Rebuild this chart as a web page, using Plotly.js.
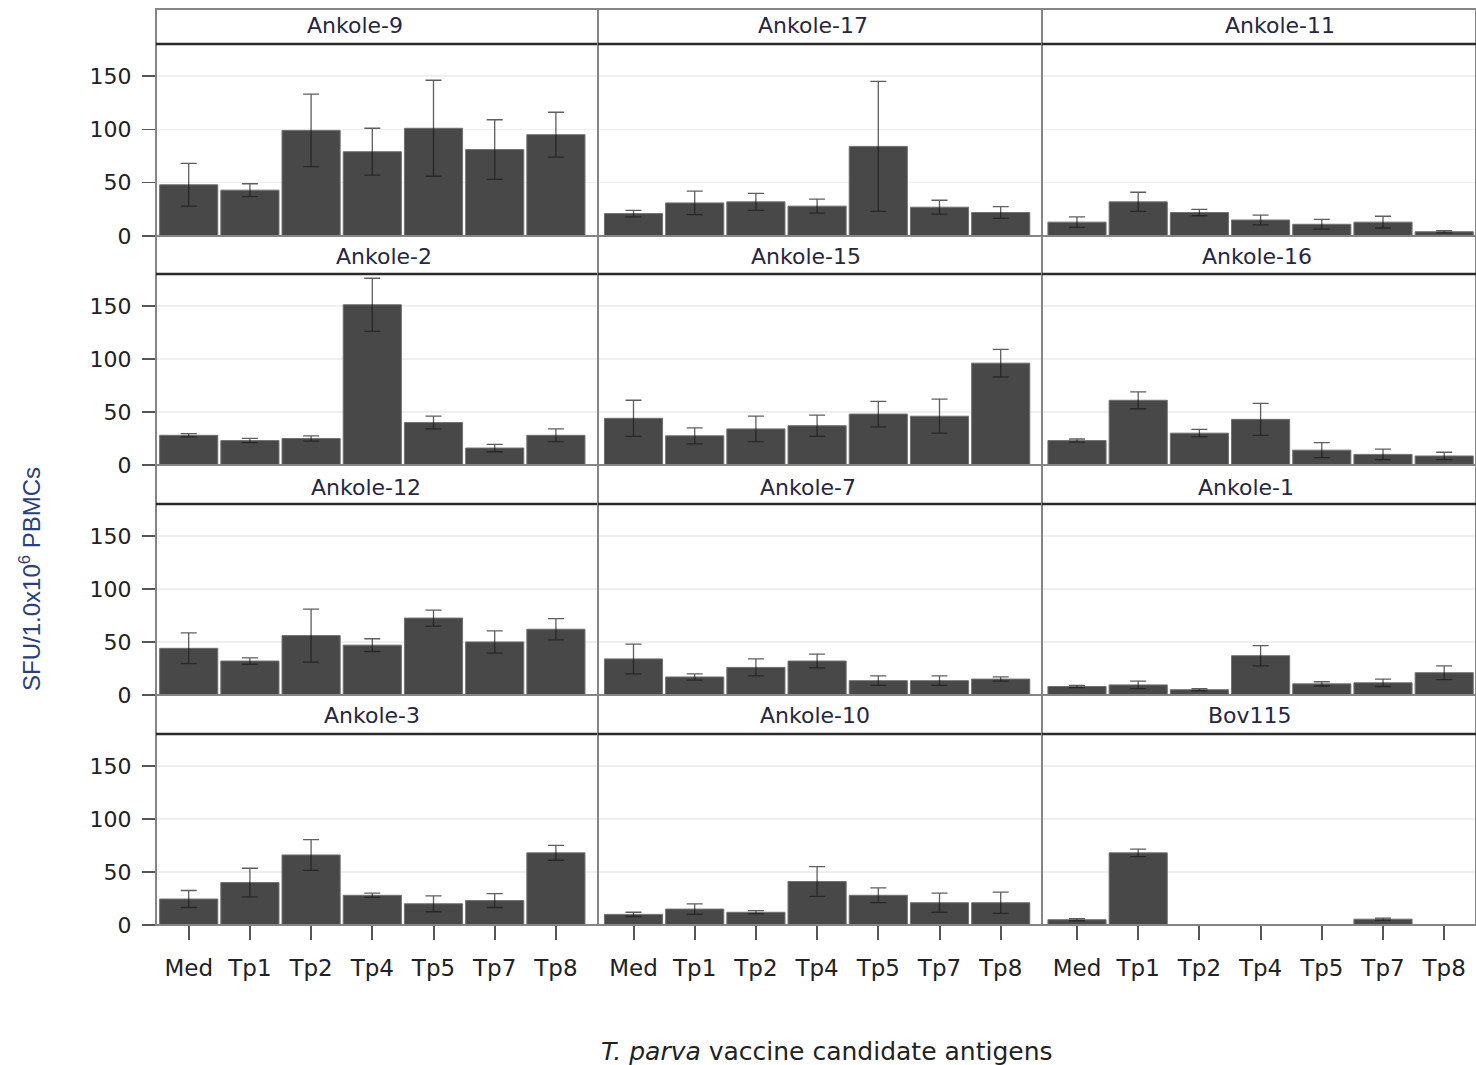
<!DOCTYPE html>
<html><head><meta charset="utf-8">
<script src="https://cdn.plot.ly/plotly-3.0.1.min.js"></script>
<style>html,body{margin:0;padding:0;background:#fff;} #chart{width:1476px;height:1065px;}</style>
</head><body><div id="chart"></div>
<script>
// ---- data ----
const antigens = ["Med","Tp1","Tp2","Tp4","Tp5","Tp7","Tp8"];
const animals = ["Ankole-9","Ankole-17","Ankole-11","Ankole-2","Ankole-15","Ankole-16","Ankole-12","Ankole-7","Ankole-1","Ankole-3","Ankole-10","Bov115"];
const ankole9 = [48, 43, 99, 79, 101, 81, 95];
const ankole9Err = [20, 6, 34, 22, 45, 28, 21];
const ankole17 = [21, 31, 32, 28, 84, 27, 22];
const ankole17Err = [3, 11, 8, 6.5, 61, 6.5, 5.5];
const ankole11 = [13, 32, 22, 15, 11, 13, 4];
const ankole11Err = [5, 9, 3, 4.5, 4.5, 5.5, 1];
const ankole2 = [28, 23, 25, 151, 40, 16, 28];
const ankole2Err = [1.5, 2, 2.5, 25, 6, 3.5, 6];
const ankole15 = [44, 27.5, 34, 37, 48, 46, 96];
const ankole15Err = [17, 7.5, 12, 10, 12, 16, 13];
const ankole16 = [23, 61, 30, 43, 14, 10, 8.5];
const ankole16Err = [1.5, 8, 3.5, 15, 7, 5, 3.5];
const ankole12 = [44, 32, 56, 47, 72.5, 50, 62];
const ankole12Err = [14.5, 3, 25, 6, 7.5, 10.5, 10];
const ankole7 = [34, 17, 26, 32, 13.5, 13.5, 15];
const ankole7Err = [14, 3, 8, 6.5, 4.5, 4.5, 2];
const ankole1 = [8, 9.5, 5, 37, 10.5, 11.5, 21];
const ankole1Err = [1, 3.5, 1, 9.5, 2, 3.5, 6.5];
const ankole3 = [24.5, 40, 66, 28, 20, 23, 68];
const ankole3Err = [8, 13.5, 14.5, 2, 7.5, 6.5, 7];
const ankole10 = [10, 15, 12, 41, 28, 21, 21];
const ankole10Err = [2, 5, 1.5, 14, 7, 9, 10];
const bov115 = [5, 68, 0, 0, 0, 5.5, 0];
const bov115Err = [1, 3.5, 0, 0, 0, 1, 0];
const yTicks = [0, 50, 100, 150];

const series = [ankole9, ankole17, ankole11, ankole2, ankole15, ankole16, ankole12, ankole7, ankole1, ankole3, ankole10, bov115];
const errors = [ankole9Err, ankole17Err, ankole11Err, ankole2Err, ankole15Err, ankole16Err, ankole12Err, ankole7Err, ankole1Err, ankole3Err, ankole10Err, bov115Err];

// ---- layout geometry (pixels) ----
const W = 1476, H = 1065;
const colL = [156, 598, 1042], colR = [598, 1042, 1476];
const tick0 = [188.7, 633.5, 1077], step = 61.2;
const stripTop = [9, 236, 465, 695], plotTop = [44, 274, 504, 734], plotBot = [236, 465, 695, 925];
const titleX = [355, 813, 1280, 384, 806, 1257, 366, 808, 1246, 372, 815, 1250];
const titleY = [25, 256, 487, 715];
const px = v => v / W, py = v => 1 - v / H;

const FONT = "DejaVu Sans, Verdana, sans-serif";
const traces = [], shapes = [], annotations = [];
const layout = {
  width: W, height: H, margin: {l:0, r:0, t:0, b:0},
  paper_bgcolor: '#fff', plot_bgcolor: '#fff', showlegend: false, hovermode: false,
  bargap: 0.05
};

for (let i = 0; i < 12; i++) {
  const r = Math.floor(i / 3), c = i % 3;
  const xid = i === 0 ? 'x' : 'x' + (i + 1);
  const yid = i === 0 ? 'y' : 'y' + (i + 1);
  const xk = i === 0 ? 'xaxis' : 'xaxis' + (i + 1);
  const yk = i === 0 ? 'yaxis' : 'yaxis' + (i + 1);
  traces.push({
    type: 'bar', x: antigens, y: series[i], xaxis: xid, yaxis: yid, width: 0.95,
    marker: {color: '#484848', line: {color: '#707070', width: 1}},
    error_y: {type: 'data', array: errors[i], visible: true, color: 'rgba(25,25,25,0.7)', thickness: 1.3, width: 8}
  });
  layout[xk] = {
    domain: [px(colL[c]), px(colR[c])], anchor: yid, type: 'category',
    categoryorder: 'array', categoryarray: antigens,
    range: [(colL[c] - tick0[c]) / step, (colR[c] - tick0[c]) / step],
    showgrid: false, zeroline: false, showline: false, automargin: false, fixedrange: true,
    showticklabels: r === 3, ticks: r === 3 ? 'outside' : '', ticklen: 14, tickwidth: 2, tickcolor: '#555',
    ticklabelstandoff: 8,
    tickfont: {family: FONT, size: 23, color: '#222'}
  };
  layout[yk] = {
    domain: [py(plotBot[r]), py(plotTop[r])], anchor: xid, range: [0, 180],
    tickvals: yTicks, ticktext: yTicks.map(String),
    showgrid: true, gridcolor: '#efefef', gridwidth: 1.5, zeroline: false, showline: false,
    automargin: false, fixedrange: true,
    showticklabels: c === 0, ticks: c === 0 ? 'outside' : '', ticklen: 13, tickwidth: 1.5, tickcolor: '#555',
    ticklabelstandoff: 6,
    tickfont: {family: FONT, size: 22, color: '#222'}
  };
  shapes.push({type: 'rect', xref: 'paper', yref: 'paper', layer: 'above',
    x0: px(colL[c]), x1: px(colR[c]), y0: py(plotBot[r]), y1: py(stripTop[r]),
    line: {color: '#858585', width: 2}, fillcolor: 'rgba(0,0,0,0)'});
  shapes.push({type: 'line', xref: 'paper', yref: 'paper', layer: 'above',
    x0: px(colL[c]), x1: px(colR[c]), y0: py(plotTop[r]), y1: py(plotTop[r]),
    line: {color: '#2a2a2a', width: 2.5}});
  annotations.push({xref: 'paper', yref: 'paper', x: px(titleX[i]), y: py(titleY[r]),
    xanchor: 'center', yanchor: 'middle', showarrow: false, text: animals[i],
    font: {family: FONT, size: 22, color: '#26263f'}});
}

annotations.push({xref: 'paper', yref: 'paper', x: px(30), y: py(579), xanchor: 'center', yanchor: 'middle',
  showarrow: false, textangle: -90, text: 'SFU/1.0x10<sup>6</sup> PBMCs',
  font: {family: "Liberation Sans, Arial, sans-serif", size: 24, color: '#2b3f78'}});
annotations.push({xref: 'paper', yref: 'paper', x: px(827), y: py(1051), xanchor: 'center', yanchor: 'middle',
  showarrow: false, text: '<i>T. parva</i> vaccine candidate antigens',
  font: {family: FONT, size: 25, color: '#222'}});

layout.shapes = shapes;
layout.annotations = annotations;

Plotly.newPlot('chart', traces, layout, {displayModeBar: false, staticPlot: true});
</script>
</body></html>
